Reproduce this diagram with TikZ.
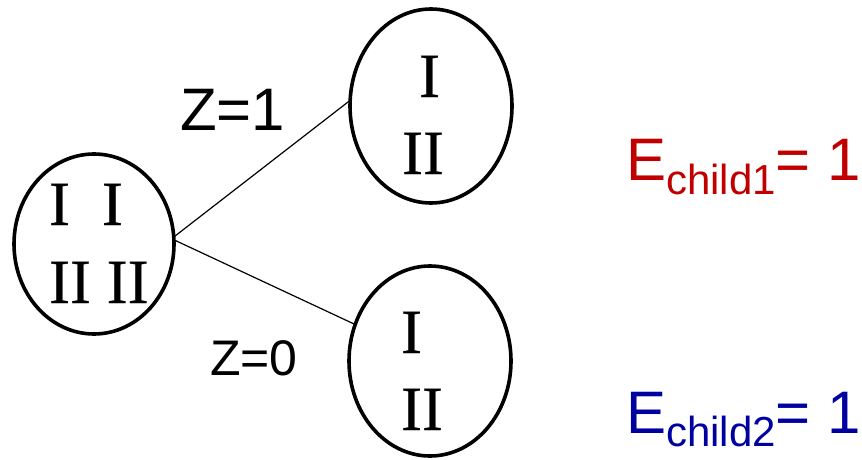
\documentclass[tikz,border=0pt]{standalone}
\usepackage{fontspec}
\setmainfont{Liberation Serif}
\setsansfont{Liberation Sans}
\newfontfamily\romanfont[FakeBold=0.6]{Liberation Serif}
\usetikzlibrary{shapes}

\definecolor{ered}{RGB}{192,0,0}
\definecolor{eblue}{RGB}{0,0,160}

\begin{document}
\begin{tikzpicture}[x=1pt, y=-1pt,
    every node/.style={inner sep=0pt, outer sep=0pt},
    blob/.style={draw, ellipse, line width=3.6pt, minimum width=#1},
    roman/.style={anchor=base west, font=\romanfont\fontsize{63}{63}\selectfont},
    zlab/.style={anchor=base west, font=\sffamily\fontsize{#1}{#1}\selectfont},
    elab/.style={anchor=base west, font=\sffamily\fontsize{60}{60}\selectfont}]
    \useasboundingbox (0,0) rectangle (862,460);

    % Parent and the two children
    \node[blob=160pt, minimum height=180pt] (root) at (94,244) {};
    \node[blob=162pt, minimum height=194pt] (child1) at (431,106) {};
    \node[blob=162pt, minimum height=190pt] (child2) at (430,361) {};

    % Contents
    \node[roman] (rootA) at (49,225) {I\hspace{32pt}I};
    \node[roman] (rootB) at (49,303) {II II};
    \node[roman] (oneA) at (419,97) {I};
    \node[roman] (oneB) at (402,174) {II};
    \node[roman] (twoA) at (401,353) {I};
    \node[roman] (twoB) at (401,430) {II};

    % Branches
    \draw[line width=1.2pt] (root.5) -- (child1.176);
    \draw[line width=1.2pt] (root.3) -- (child2.154);
    \node[zlab=60] (zone) at (180,130) {Z=1};
    \node[zlab=50] (zzero) at (210,375) {Z=0};

    % Entropies
    \node[elab, text=ered] (eone) at (626,180)
        {E\raisebox{-14pt}{\fontsize{42}{42}\selectfont child1}= 1};
    \node[elab, text=eblue] (etwo) at (626,433)
        {E\raisebox{-13pt}{\fontsize{42}{42}\selectfont child2}= 1};
\end{tikzpicture}
\end{document}
